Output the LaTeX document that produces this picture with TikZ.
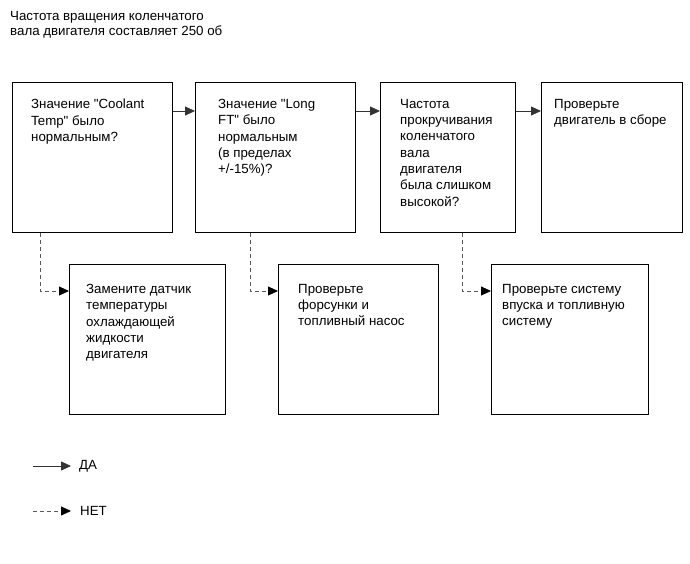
\documentclass[tikz,border=0pt]{standalone}
\usepackage{fontspec}
\setmainfont{Liberation Sans}[Ligatures=TeXOff]
\usetikzlibrary{arrows.meta}
\tikzset{
  box/.style={draw=black, line width=1.3pt, minimum width=#1, minimum height=150pt, inner sep=0pt, anchor=north west},
  txt/.style={anchor=north west, inner sep=0pt, align=left, font=\fontsize{13.3}{16.3}\selectfont},
  yes/.style={draw=black!80, line width=0.8pt, -{Triangle[length=10pt,width=9pt]}},
  no/.style={draw=black!65, line width=0.8pt, dash pattern=on 4pt off 3pt, -{Triangle[length=10pt,width=9pt,color=black]}},
}
\begin{document}
\begin{tikzpicture}[x=1pt,y=-1pt]
\useasboundingbox (0,0) rectangle (690,564);
\node[txt, font=\fontsize{13.3}{15}\selectfont] (title) at (10,11) {Частота вращения коленчатого\\вала двигателя составляет 250 об};
% top boxes
\node[box=160pt] (b1) at (12,82) {};
\node[box=160pt] (b2) at (195,82) {};
\node[box=135pt] (b3) at (380,82) {};
\node[box=141pt] (b4) at (541,82) {};
% bottom boxes
\node[box=156pt] (b5) at (69,264) {};
\node[box=160pt] (b6) at (278,264) {};
\node[box=157pt] (b7) at (491,264) {};
% texts
\node[txt] (t1) at (31,99) {Значение "Coolant\\Temp" было\\нормальным?};
\node[txt] (t2) at (218,99) {Значение "Long\\FT" было\\нормальным\\(в пределах\\+/-15\%)?};
\node[txt] (t3) at (400,99) {Частота\\прокручивания\\коленчатого\\вала\\двигателя\\была слишком\\высокой?};
\node[txt] (t4) at (554,99) {Проверьте\\двигатель в сборе};
\node[txt] (t5) at (86,284) {Замените датчик\\температуры\\охлаждающей\\жидкости\\двигателя};
\node[txt] (t6) at (298,284) {Проверьте\\форсунки и\\топливный насос};
\node[txt] (t7) at (502,284) {Проверьте систему\\впуска и топливную\\систему};
% yes arrows
\draw[yes] (b1.east |- 0,111) -- (b2.west |- 0,111);
\draw[yes] (b2.east |- 0,111) -- (b3.west |- 0,111);
\draw[yes] (b3.east |- 0,111) -- (b4.west |- 0,111);
% no arrows
\draw[no] (b1.south -| 40,0) |- (b5.west |- 0,291);
\draw[no] (b2.south -| 250,0) |- (b6.west |- 0,291);
\draw[no] (b3.south -| 462,0) |- (b7.west |- 0,291);
% legend
\coordinate (ly1) at (33,466);
\coordinate (ly2) at (71,466);
\coordinate (ln1) at (33,511);
\coordinate (ln2) at (71,511);
\draw[yes] (ly1) -- (ly2);
\draw[no] (ln1) -- (ln2);
\node[anchor=west, inner sep=0pt, font=\fontsize{13.3}{15}\selectfont] (lyes) at (79,466) {ДА};
\node[anchor=west, inner sep=0pt, font=\fontsize{13.3}{15}\selectfont] (lno) at (80,511) {НЕТ};
\end{tikzpicture}
\end{document}
